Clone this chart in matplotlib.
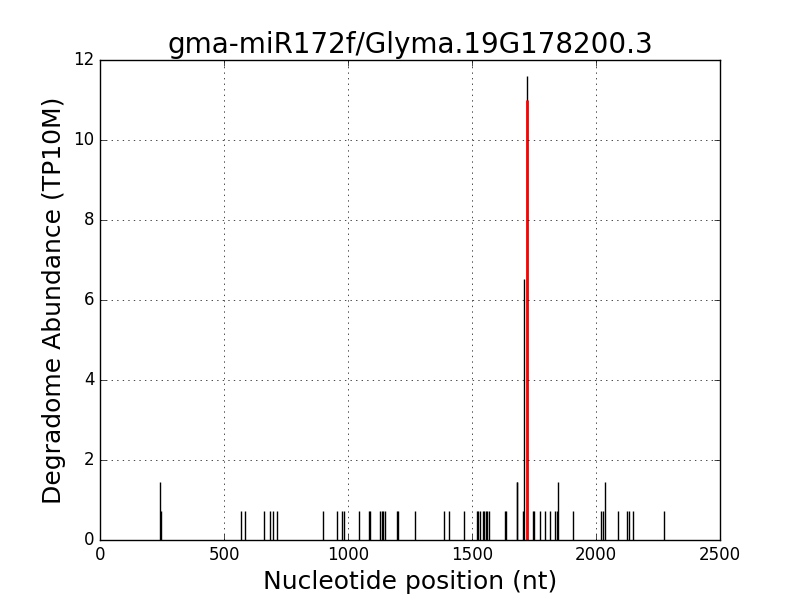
import numpy as np
import matplotlib
matplotlib.use('Agg')
import matplotlib.pyplot as plt

plt.style.use('classic')

# degradome reads (position in nt, abundance in TP10M)
pos = [242, 246, 570, 586, 662, 686, 699, 715,
       901, 956, 977, 982, 1046, 1085, 1089, 1130, 1136, 1143, 1149,
       1199, 1202, 1271, 1387, 1409, 1469, 1520, 1524, 1532, 1543,
       1549, 1555, 1561, 1567, 1633, 1638, 1680, 1682, 1707, 1710, 1723,
       1745, 1750, 1774, 1794, 1815, 1835, 1841, 1848, 1906,
       2021, 2027, 2038, 2090, 2126, 2132, 2148, 2275]
abund = [1.45, 0.72, 0.72, 0.72, 0.72, 0.72, 0.72, 0.72,
         0.72, 0.72, 0.72, 0.72, 0.72, 0.72, 0.72, 0.72, 0.72, 0.72, 0.72,
         0.72, 0.72, 0.72, 0.72, 0.72, 0.72, 0.72, 0.72, 0.72, 0.72,
         0.72, 0.72, 0.72, 0.72, 0.72, 0.72, 1.45, 1.45, 0.72, 6.52, 11.59,
         0.72, 0.72, 0.72, 0.72, 0.72, 0.72, 0.72, 1.45, 0.72,
         0.72, 0.72, 1.45, 0.72, 0.72, 0.72, 0.72, 0.72]

# predicted cleavage site
site_pos = 1720
site_abund = 11.0

fig = plt.figure(figsize=(8, 6), dpi=100)
ax = fig.add_subplot(111)
ax.vlines(pos, 0, abund, colors='k', linewidth=1)
ax.vlines([site_pos], 0, [site_abund], colors='r', linewidth=2)
ax.set_xlim(0, 2500)
ax.set_ylim(0, 12)
ax.grid(True, color='k')
ax.set_title('gma-miR172f/Glyma.19G178200.3', fontsize=20)
ax.set_xlabel('Nucleotide position (nt)', fontsize=18)
ax.set_ylabel('Degradome Abundance (TP10M)', fontsize=18)
fig.savefig('out.png', facecolor='white')
